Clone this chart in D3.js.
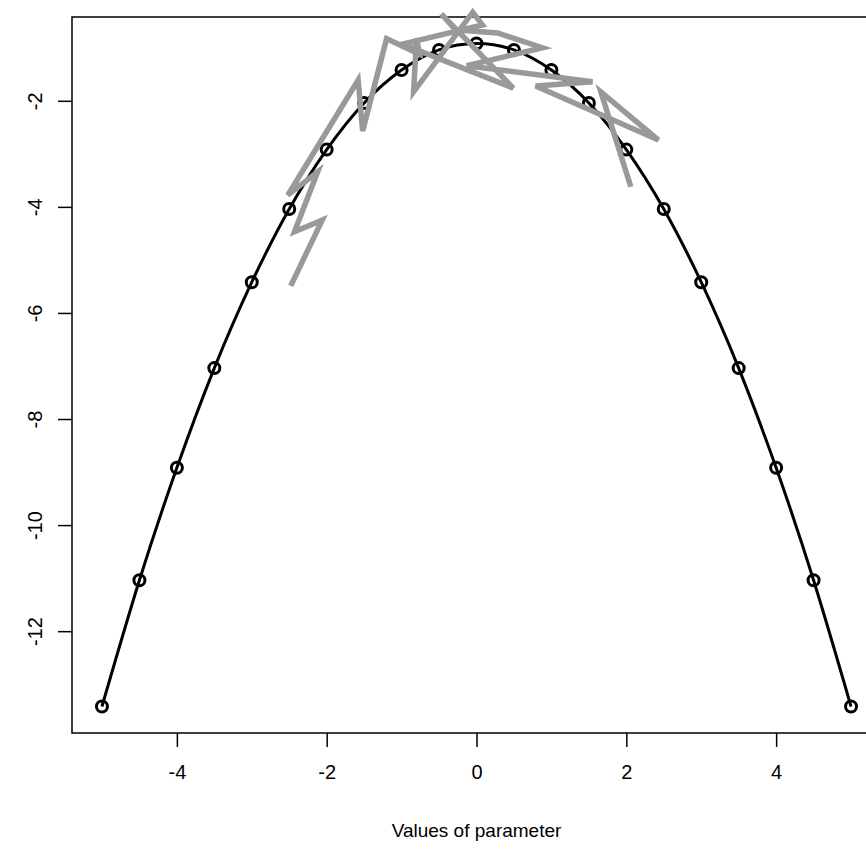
<!DOCTYPE html>
<html>
<head>
<meta charset="utf-8">
<script src="https://cdn.jsdelivr.net/npm/d3@7"></script>
<style>
  body { margin: 0; background: #fff; }
  svg text { font-family: "Liberation Sans", Arial, sans-serif; fill: #000; }
</style>
</head>
<body>
<div id="chart"></div>
<script>
// black curve: parameter values and their values
const paramValues = [-5, -4.5, -4, -3.5, -3, -2.5, -2, -1.5, -1, -0.5, 0, 0.5, 1, 1.5, 2, 2.5, 3, 3.5, 4, 4.5, 5];
const curveValues = [-13.42, -11.04, -8.92, -7.04, -5.42, -4.04, -2.92, -2.04, -1.42, -1.04, -0.92,
  -1.04, -1.42, -2.04, -2.92, -4.04, -5.42, -7.04, -8.92, -11.04, -13.42];

// grey zigzag path
const greyX = [-2.48, -2.06, -2.43, -2.12, -2.52, -1.58, -1.52, -1.20, -0.76, -0.80, -0.84, -0.05, 0.08,
  -0.99, 0.49, -0.47, -0.28, 0.28, 0.88, -0.13, 1.55, 0.79, 2.43, 1.66, 2.06];
const greyY = [-5.49, -4.25, -4.47, -3.34, -3.78, -1.61, -2.57, -0.83, -1.12, -0.82, -1.83, -0.33, -0.57,
  -0.93, -1.76, -0.36, -0.66, -0.72, -1.00, -1.34, -1.64, -1.72, -2.74, -1.83, -3.62];

const xTicks = [-4, -2, 0, 2, 4];
const yTicks = [-2, -4, -6, -8, -10, -12];
const xTitle = "Values of parameter";

const width = 866, height = 856;
const plot = { left: 72, top: 17, right: 881, bottom: 733 };

const svg = d3.select("#chart").append("svg")
  .attr("width", width)
  .attr("height", height);

// R-style 4% padding around the black curve
const x = d3.scaleLinear().domain([-5.4, 5.4]).range([plot.left, plot.right]);
const y = d3.scaleLinear().domain([-13.92, -0.42]).range([plot.bottom, plot.top]);

// box
svg.append("rect")
  .attr("x", plot.left)
  .attr("y", plot.top)
  .attr("width", plot.right - plot.left)
  .attr("height", plot.bottom - plot.top)
  .attr("fill", "none")
  .attr("stroke", "#000")
  .attr("stroke-width", 1.5);

// axes
const xAxis = svg.append("g")
  .attr("transform", `translate(0,${plot.bottom})`)
  .call(d3.axisBottom(x).tickValues(xTicks).tickSize(14).tickFormat(d3.format("d")));
xAxis.select(".domain").remove();

const yAxis = svg.append("g")
  .attr("transform", `translate(${plot.left},0)`)
  .call(d3.axisLeft(y).tickValues(yTicks).tickSize(14).tickFormat(d3.format("d")));
yAxis.select(".domain").remove();

[xAxis, yAxis].forEach(a => {
  a.selectAll(".tick line").attr("stroke", "#000").attr("stroke-width", 1.5);
  a.selectAll(".tick text").style("font-size", "20px").attr("fill", "#000");
});
xAxis.selectAll(".tick text").attr("y", 32).attr("dy", "0.71em").text(d => d < 0 ? "-" + Math.abs(d) : d);

yAxis.selectAll(".tick text")
  .attr("x", null).attr("dy", null)
  .attr("transform", "translate(-30,0) rotate(-90)")
  .attr("text-anchor", "middle")
  .attr("y", 0)
  .text(d => "-" + Math.abs(d));

svg.append("text")
  .attr("x", x(0))
  .attr("y", 837)
  .attr("text-anchor", "middle")
  .style("font-size", "19px")
  .text(xTitle);

svg.append("defs").append("clipPath").attr("id", "clip")
  .append("rect")
  .attr("x", 0).attr("y", 0).attr("width", width).attr("height", height);

const g = svg.append("g").attr("clip-path", "url(#clip)");

// black curve
const curvePts = paramValues.map((p, i) => [p, curveValues[i]]);
g.append("path")
  .datum(curvePts)
  .attr("fill", "none")
  .attr("stroke", "#000")
  .attr("stroke-width", 3)
  .attr("d", d3.line().x(d => x(d[0])).y(d => y(d[1])).curve(d3.curveNatural));

g.selectAll("circle.pt")
  .data(curvePts)
  .join("circle")
  .attr("class", "pt")
  .attr("cx", d => x(d[0]))
  .attr("cy", d => y(d[1]))
  .attr("r", 5.5)
  .attr("fill", "none")
  .attr("stroke", "#000")
  .attr("stroke-width", 3);

// grey zigzag
const greyPts = greyX.map((v, i) => [v, greyY[i]]);
g.append("path")
  .datum(greyPts)
  .attr("fill", "none")
  .attr("stroke", "#999999")
  .attr("stroke-width", 5.5)
  .attr("stroke-linejoin", "miter")
  .attr("d", d3.line().x(d => x(d[0])).y(d => y(d[1])));
</script>
</body>
</html>
